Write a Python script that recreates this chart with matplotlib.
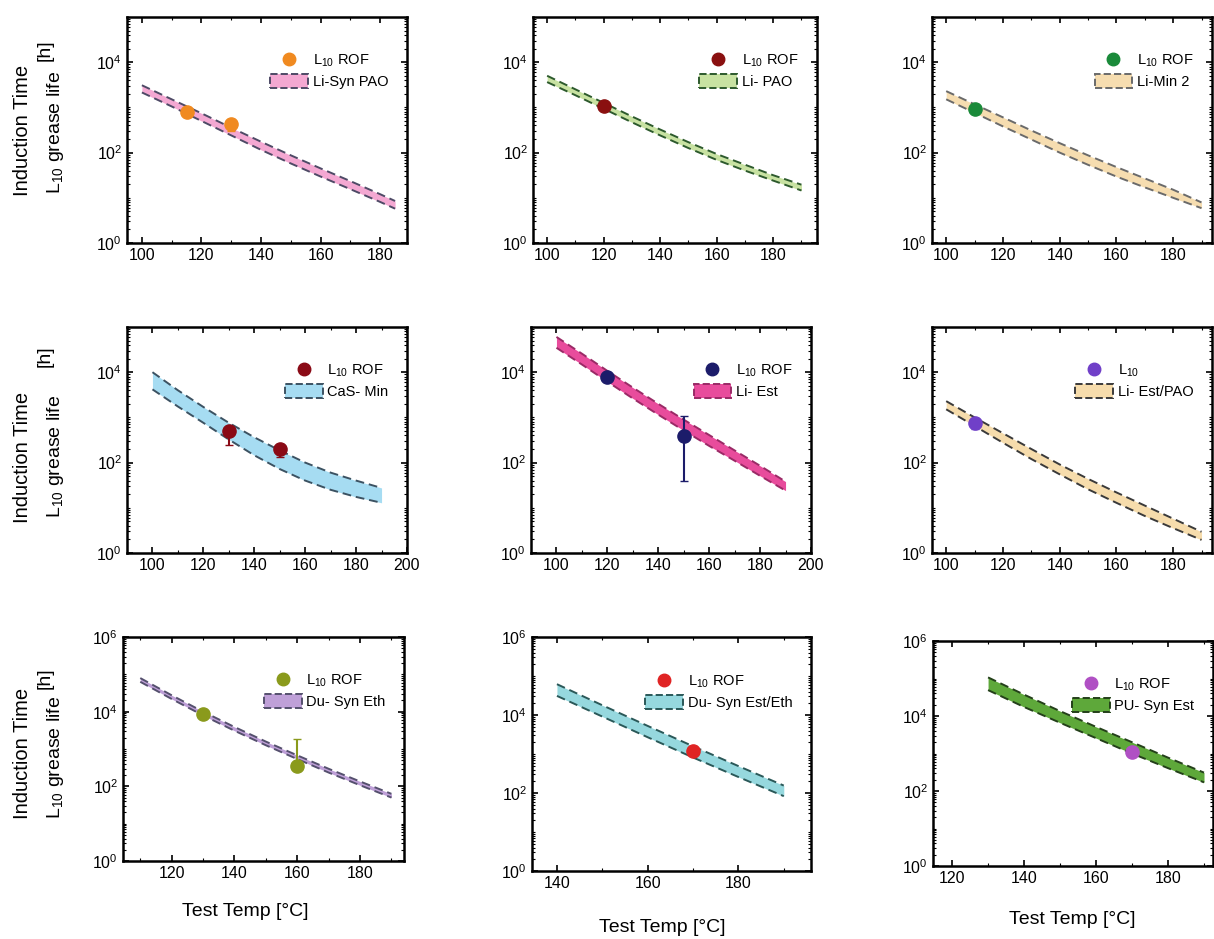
import matplotlib
matplotlib.use("Agg")
import matplotlib.pyplot as plt
from matplotlib.ticker import LogLocator, NullFormatter, MultipleLocator
from matplotlib.patches import Patch
from matplotlib.lines import Line2D

plt.rcParams['font.family'] = ['Liberation Sans', 'DejaVu Sans']
plt.rcParams['mathtext.fontset'] = 'custom'
plt.rcParams['mathtext.rm'] = 'Liberation Sans'
plt.rcParams['mathtext.it'] = 'Liberation Sans:italic'

# ---- data ----
p1_T = [100, 110, 120, 130, 140, 150, 160, 170, 180, 185]
p1_hi = [3090, 1510, 741, 355, 174, 87, 44.7, 23.4, 12.0, 8.5]
p1_lo = [2140, 1050, 501, 240, 115, 57.5, 29.5, 15.5, 8.1, 5.75]
p1_x = [115, 130]
p1_y = [780, 420]
p1_err = [[0, 120], [0, 0]]

p2_T = [100, 110, 120, 130, 140, 150, 160, 170, 180, 190]
p2_hi = [5010, 2510, 1260, 631, 324, 170, 93, 54, 31.6, 19.5]
p2_lo = [3630, 1860, 933, 468, 240, 126, 69, 40, 24, 14.5]
p2_x = [120]
p2_y = [1050]
p2_err = [[0], [0]]

p3_T = [100, 110, 120, 130, 140, 150, 160, 170, 180, 190]
p3_hi = [2290, 1170, 603, 309, 162, 87, 47.9, 26.9, 15.1, 7.9]
p3_lo = [1510, 759, 380, 195, 100, 53.7, 29.5, 17.0, 10.0, 5.9]
p3_x = [110]
p3_y = [900]
p3_err = [[0], [0]]

p4_T = [100, 110, 120, 130, 140, 150, 160, 170, 180, 190]
p4_hi = [10000, 3980, 1700, 759, 363, 186, 100, 60, 40, 27.5]
p4_lo = [4170, 1740, 759, 324, 145, 72, 40, 25, 17.4, 12.9]
p4_x = [130, 150]
p4_y = [490, 205]
p4_err = [[240, 75], [70, 25]]

p5_T = [100, 110, 120, 130, 140, 150, 160, 170, 180, 190]
p5_hi = [60300, 25700, 10700, 4570, 2000, 891, 407, 186, 85, 38]
p5_lo = [34700, 14800, 6170, 2630, 1150, 513, 234, 110, 51, 24]
p5_x = [120, 150]
p5_y = [7800, 380]
p5_err = [[0, 340], [0, 670]]

p6_T = [100, 110, 120, 130, 140, 150, 160, 170, 180, 190]
p6_hi = [2290, 1000, 447, 200, 91, 43.7, 21.9, 11.2, 5.75, 2.95]
p6_lo = [1510, 646, 275, 120, 55, 25.7, 12.9, 6.6, 3.55, 1.95]
p6_x = [110]
p6_y = [740]
p6_err = [[200], [0]]

p7_T = [110, 120, 130, 140, 150, 160, 170, 180, 190]
p7_hi = [79400, 27500, 10000, 3890, 1580, 676, 295, 135, 63]
p7_lo = [63100, 21900, 7940, 3090, 1260, 537, 234, 107, 50]
p7_x = [130, 160]
p7_y = [8700, 350]
p7_err = [[0, 0], [0, 1500]]

p8_T = [140, 150, 160, 170, 180, 190]
p8_hi = [61700, 17800, 5250, 1580, 490, 155]
p8_lo = [30900, 9120, 2690, 813, 257, 83]
p8_x = [170]
p8_y = [1200]
p8_err = [[0], [0]]

p9_T = [130, 140, 150, 160, 170, 180, 190]
p9_hi = [107000, 37200, 13500, 5130, 2000, 776, 309]
p9_lo = [49000, 17400, 6610, 2570, 1000, 407, 170]
p9_x = [170]
p9_y = [1100]
p9_err = [[0], [0]]

grease_names = ["Li-Syn PAO", "Li- PAO", "Li-Min 2", "CaS- Min", "Li- Est",
                "Li- Est/PAO", "Du- Syn Eth", "Du- Syn Est/Eth", "PU- Syn Est"]
point_names = ["L$_{10}$ ROF"] * 5 + ["L$_{10}$"] + ["L$_{10}$ ROF"] * 3

# ---- styles / layout ----
W, H = 1214, 939
boxes = [  # left, right, top, bottom in pixels
    (127, 407, 17, 243), (533, 817, 17, 243), (932, 1212, 17, 243),
    (127, 407, 327, 553), (531, 811, 327, 553), (932, 1212, 327, 553),
    (123, 404, 637, 861), (532, 811, 637, 871), (933, 1213, 641, 866),
]
xlims = [(95, 189), (95, 195.5), (95, 193.7), (90, 200), (90, 200), (95, 193.7),
         (104.5, 194), (134.5, 196), (114.7, 192.5)]
band_fc = ['#f4a8d2', '#c8e2a2', '#f6ddb0', '#a6dcf2', '#e84c9c',
           '#f6dcac', '#bfa0d8', '#96d8de', '#5ea83a']
band_ec = ['#4e4a66', '#2d5a2d', '#6a6a6a', '#3c5262', '#9a2a66',
           '#3a3a3a', '#55506e', '#2a5858', '#24401a']
pt_col = ['#f08a20', '#8a1010', '#1a8a3a', '#8a0a16', '#1c1c6a',
          '#7040c8', '#8a9a1c', '#e02424', '#b050c4']
xlabel_pos = [(245, 912), (662, 928), (1072, 920)]

panels = [
    (p1_T, p1_hi, p1_lo, p1_x, p1_y, p1_err),
    (p2_T, p2_hi, p2_lo, p2_x, p2_y, p2_err),
    (p3_T, p3_hi, p3_lo, p3_x, p3_y, p3_err),
    (p4_T, p4_hi, p4_lo, p4_x, p4_y, p4_err),
    (p5_T, p5_hi, p5_lo, p5_x, p5_y, p5_err),
    (p6_T, p6_hi, p6_lo, p6_x, p6_y, p6_err),
    (p7_T, p7_hi, p7_lo, p7_x, p7_y, p7_err),
    (p8_T, p8_hi, p8_lo, p8_x, p8_y, p8_err),
    (p9_T, p9_hi, p9_lo, p9_x, p9_y, p9_err),
]

fig = plt.figure(figsize=(W / 100, H / 100), dpi=100)

for i, (T, hi, lo, px, py, perr) in enumerate(panels):
    l, r, t, b = boxes[i]
    ax = fig.add_axes([l / W, 1 - b / H, (r - l) / W, (b - t) / H])
    ax.fill_between(T, lo, hi, color=band_fc[i], lw=0)
    ax.plot(T, hi, ls=(0, (4.5, 2.5)), color=band_ec[i], lw=1.4)
    ax.plot(T, lo, ls=(0, (4.5, 2.5)), color=band_ec[i], lw=1.4)
    ax.errorbar(px, py, yerr=perr, fmt='o', ms=9.5, color=pt_col[i],
                mec=pt_col[i], ecolor=pt_col[i], elinewidth=1.5, capsize=3, zorder=5)
    ax.set_yscale('log')
    row = i // 3
    if row < 2:
        ax.set_ylim(1, 1e5)
        ax.set_yticks([1, 1e2, 1e4])
    else:
        ax.set_ylim(1, 1e6)
        ax.set_yticks([1, 1e2, 1e4, 1e6])
    ax.yaxis.set_minor_locator(LogLocator(base=10, subs=[1, 2, 3, 4, 5, 6, 7, 8, 9], numticks=20))
    ax.yaxis.set_minor_formatter(NullFormatter())
    ax.set_xlim(*xlims[i])
    ax.xaxis.set_major_locator(MultipleLocator(20))
    ax.xaxis.set_minor_locator(MultipleLocator(10))
    ax.tick_params(which='both', direction='in', top=True, right=True, labelsize=11.5)
    ax.tick_params(which='major', length=4, width=1.2)
    ax.tick_params(which='minor', length=2, width=0.8)
    for s in ax.spines.values():
        s.set_linewidth(1.8)

    handles = [Line2D([], [], marker='o', ls='none', ms=9, color=pt_col[i]),
               Patch(facecolor=band_fc[i], edgecolor=band_ec[i], ls='--', lw=1.4)]
    ax.legend(handles, [point_names[i], grease_names[i]], loc='upper right',
              bbox_to_anchor=(0.98, 0.9), frameon=False, fontsize=10.5,
              handlelength=2.6, handleheight=1.1, handletextpad=0.3, labelspacing=0.35)

    if row == 2:
        xp, yp = xlabel_pos[i - 6]
        fig.text(xp / W, 1 - yp / H, "Test Temp [°C]", ha='center', va='center', fontsize=14)

# row y-labels
ylab = [(130, 50, 132), (457, 356, 456), (753, 678, 757)]
for yc, yh, yl in ylab:
    fig.text(23 / W, 1 - yc / H, "Induction Time", rotation=90, ha='center', va='center', fontsize=14.5)
    fig.text(45 / W, 1 - yh / H, "[h]", rotation=90, ha='center', va='center', fontsize=14)
    fig.text(55 / W, 1 - yl / H, "L$_{10}$ grease life", rotation=90, ha='center', va='center', fontsize=14)

fig.savefig("out.png", dpi=100)
